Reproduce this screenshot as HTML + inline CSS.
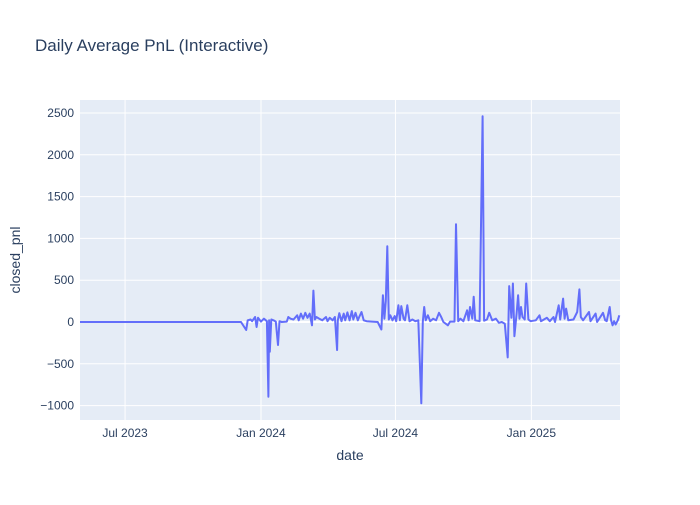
<!DOCTYPE html>
<html><head><meta charset="utf-8"><style>
body{margin:0;background:#fff;font-family:"Liberation Sans",Arial,sans-serif;}
svg text{font-family:"Liberation Sans",Arial,sans-serif;fill:#2a3f5f;}
</style></head><body>
<svg id="chart" width="700" height="500">
<rect x="0" y="0" width="700" height="500" fill="#fff"/>
<text x="35" y="51" font-size="17">Daily Average PnL (Interactive)</text>
<rect x="80" y="100" width="540" height="320" fill="#E5ECF6"/>
<g id="grid"></g>
<g id="series"></g>
<g id="axes"></g>
<text x="350" y="460" font-size="14" text-anchor="middle">date</text>
<text transform="translate(20,260) rotate(-90)" font-size="14" text-anchor="middle">closed_pnl</text>
</svg>
<script>
const dates = ["2023-05-01","2023-12-05","2023-12-12","2023-12-14","2023-12-18","2023-12-20","2023-12-24","2023-12-26","2023-12-28","2024-01-01","2024-01-05","2024-01-09","2024-01-11","2024-01-12","2024-01-13","2024-01-15","2024-01-18","2024-01-21","2024-01-24","2024-01-26","2024-01-29","2024-02-05","2024-02-07","2024-02-10","2024-02-14","2024-02-19","2024-02-21","2024-02-24","2024-02-27","2024-03-01","2024-03-04","2024-03-07","2024-03-10","2024-03-12","2024-03-14","2024-03-16","2024-03-20","2024-03-24","2024-03-29","2024-03-31","2024-04-03","2024-04-07","2024-04-10","2024-04-13","2024-04-14","2024-04-16","2024-04-19","2024-04-22","2024-04-24","2024-04-27","2024-04-30","2024-05-03","2024-05-05","2024-05-08","2024-05-11","2024-05-13","2024-05-16","2024-05-19","2024-05-23","2024-05-30","2024-06-07","2024-06-12","2024-06-14","2024-06-16","2024-06-18","2024-06-20","2024-06-22","2024-06-24","2024-06-27","2024-06-30","2024-07-02","2024-07-05","2024-07-07","2024-07-09","2024-07-12","2024-07-14","2024-07-17","2024-07-20","2024-07-24","2024-07-28","2024-08-01","2024-08-05","2024-08-07","2024-08-09","2024-08-11","2024-08-14","2024-08-17","2024-08-21","2024-08-25","2024-08-29","2024-09-01","2024-09-04","2024-09-10","2024-09-13","2024-09-19","2024-09-21","2024-09-24","2024-09-27","2024-10-01","2024-10-06","2024-10-08","2024-10-10","2024-10-13","2024-10-15","2024-10-17","2024-10-23","2024-10-27","2024-10-29","2024-11-02","2024-11-05","2024-11-09","2024-11-14","2024-11-18","2024-11-22","2024-11-26","2024-11-30","2024-12-02","2024-12-05","2024-12-07","2024-12-09","2024-12-12","2024-12-14","2024-12-16","2024-12-18","2024-12-20","2024-12-23","2024-12-25","2024-12-28","2024-12-31","2025-01-07","2025-01-12","2025-01-14","2025-01-18","2025-01-22","2025-01-26","2025-01-31","2025-02-02","2025-02-07","2025-02-09","2025-02-13","2025-02-15","2025-02-17","2025-02-20","2025-02-27","2025-03-04","2025-03-07","2025-03-09","2025-03-12","2025-03-20","2025-03-22","2025-03-29","2025-03-31","2025-04-08","2025-04-11","2025-04-13","2025-04-17","2025-04-19","2025-04-21","2025-04-23","2025-04-25","2025-04-28","2025-04-30"];
const pnl = [0,0,-96,20,30,10,60,-60,50,5,40,10,-893,20,-355,30,20,5,-275,10,0,5,60,40,30,80,20,100,40,110,50,100,-40,375,30,60,40,20,60,10,50,20,60,-335,20,105,10,100,20,115,20,130,30,110,20,60,120,20,10,5,0,-90,320,40,250,905,30,80,20,70,10,200,20,190,40,20,200,10,30,10,20,-973,0,180,20,80,10,40,20,110,60,0,-40,5,5,1170,10,40,10,140,20,180,40,303,20,10,2460,15,30,110,20,40,-10,0,-20,-423,430,50,460,-170,100,320,40,180,60,30,460,30,10,20,80,10,30,50,10,60,0,200,30,280,40,160,20,30,120,390,60,20,120,10,100,0,110,20,10,180,20,-40,10,-30,20,80];
const xTickDates = ["2023-07-01","2024-01-01","2024-07-01","2025-01-01"];
const xTickLabels = ["Jul 2023","Jan 2024","Jul 2024","Jan 2025"];
const yTicks = [-1000,-500,0,500,1000,1500,2000,2500];

const NS="http://www.w3.org/2000/svg";
const t=d=>Date.parse(d+"T00:00:00Z");
const x0=t("2023-05-01"), x1=t("2025-05-01");
const X=d=>80+(t(d)-x0)/(x1-x0)*540;
const Y=v=>322-v*(209/2500);
function mk(tag,attrs,parent){const e=document.createElementNS(NS,tag);for(const k in attrs)e.setAttribute(k,attrs[k]);parent.appendChild(e);return e;}
const grid=document.getElementById('grid'), axes=document.getElementById('axes'), series=document.getElementById('series');
yTicks.forEach(v=>{
  const l=mk('line',{x1:80,x2:620,y1:Y(v),y2:Y(v),stroke:'#fff','stroke-width':v===0?2:1},grid);
  
  
  const tx=mk('text',{x:74,y:Y(v)+4,'font-size':12,'text-anchor':'end'},axes);
  tx.textContent=v<0?'\u2212'+Math.abs(v):String(v);
  
  
});
xTickDates.forEach((d,i)=>{
  const l=mk('line',{x1:X(d),x2:X(d),y1:100,y2:420,stroke:'#fff','stroke-width':1},grid);
  
  
  const tx=mk('text',{x:X(d),y:437,'font-size':12,'text-anchor':'middle'},axes);
  tx.textContent=xTickLabels[i];
  
  
});
const pts=dates.map((d,i)=>X(d).toFixed(1)+','+Y(pnl[i]).toFixed(1)).join(' ');
const pl=mk('polyline',{points:pts,fill:'none',stroke:'#636efa','stroke-width':2,'stroke-linejoin':'round'},series);


</script>
</body></html>
